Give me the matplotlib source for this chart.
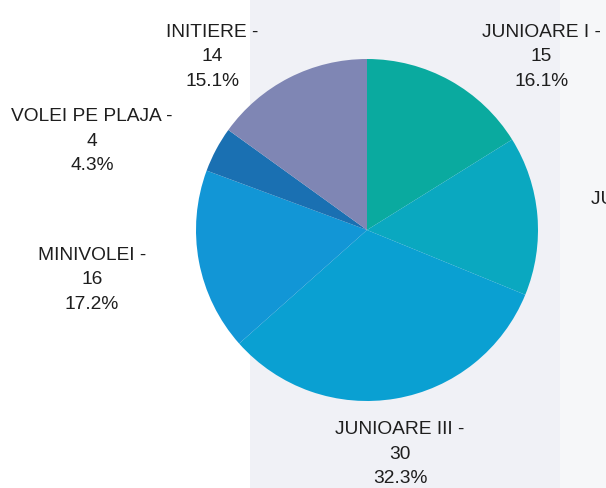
import matplotlib
matplotlib.use("Agg")
import matplotlib.pyplot as plt
from matplotlib.patches import Rectangle

# data
categories = ["JUNIOARE I", "JUNIOARE II", "JUNIOARE III", "MINIVOLEI", "VOLEI PE PLAJA", "INITIERE"]
counts = [15, 14, 30, 16, 4, 14]
colors = ["#0aaa9f", "#0aa8c0", "#0aa0d2", "#1296d6", "#1a70b2", "#7f86b4"]

# label block centres in axes data units (pie radius = 1)
label_pos = [(1.018, 1.012), (1.67, 0.035), (0.193, -1.31),
             (-1.608, -0.292), (-1.608, 0.52), (-0.906, 1.012)]

W, H = 606, 488
fig = plt.figure(figsize=(W/100, H/100), dpi=100)
fig.patch.set_facecolor("white")

# faded background band (like the flag picture behind the chart)
fig.patches.append(Rectangle((250/W, 0), 310/W, 1, transform=fig.transFigure,
                             facecolor="#f0f1f6", edgecolor="none", zorder=-10))
fig.patches.append(Rectangle((560/W, 0), 46/W, 1, transform=fig.transFigure,
                             facecolor="#f6f7f9", edgecolor="none", zorder=-10))

cx, cy, r = 367/W, 1 - 230/H, 171
ax = fig.add_axes([cx - r/W, cy - r/H, 2*r/W, 2*r/H])
ax.set_facecolor("none")
ax.pie(counts, colors=colors, startangle=90, counterclock=False,
       radius=1, wedgeprops=dict(linewidth=0))
ax.set_xlim(-1, 1)
ax.set_ylim(-1, 1)
ax.set_aspect("equal")
ax.axis("off")

total = sum(counts)
for name, n, (x, y) in zip(categories, counts, label_pos):
    txt = "%s -\n%d\n%.1f%%" % (name, n, 100.0*n/total)
    ax.text(x, y, txt, ha="center", va="center", fontsize=13.8,
            family="Liberation Sans", color="#1e1e1e", linespacing=1.58,
            clip_on=False)

fig.savefig("out.png", dpi=100)
